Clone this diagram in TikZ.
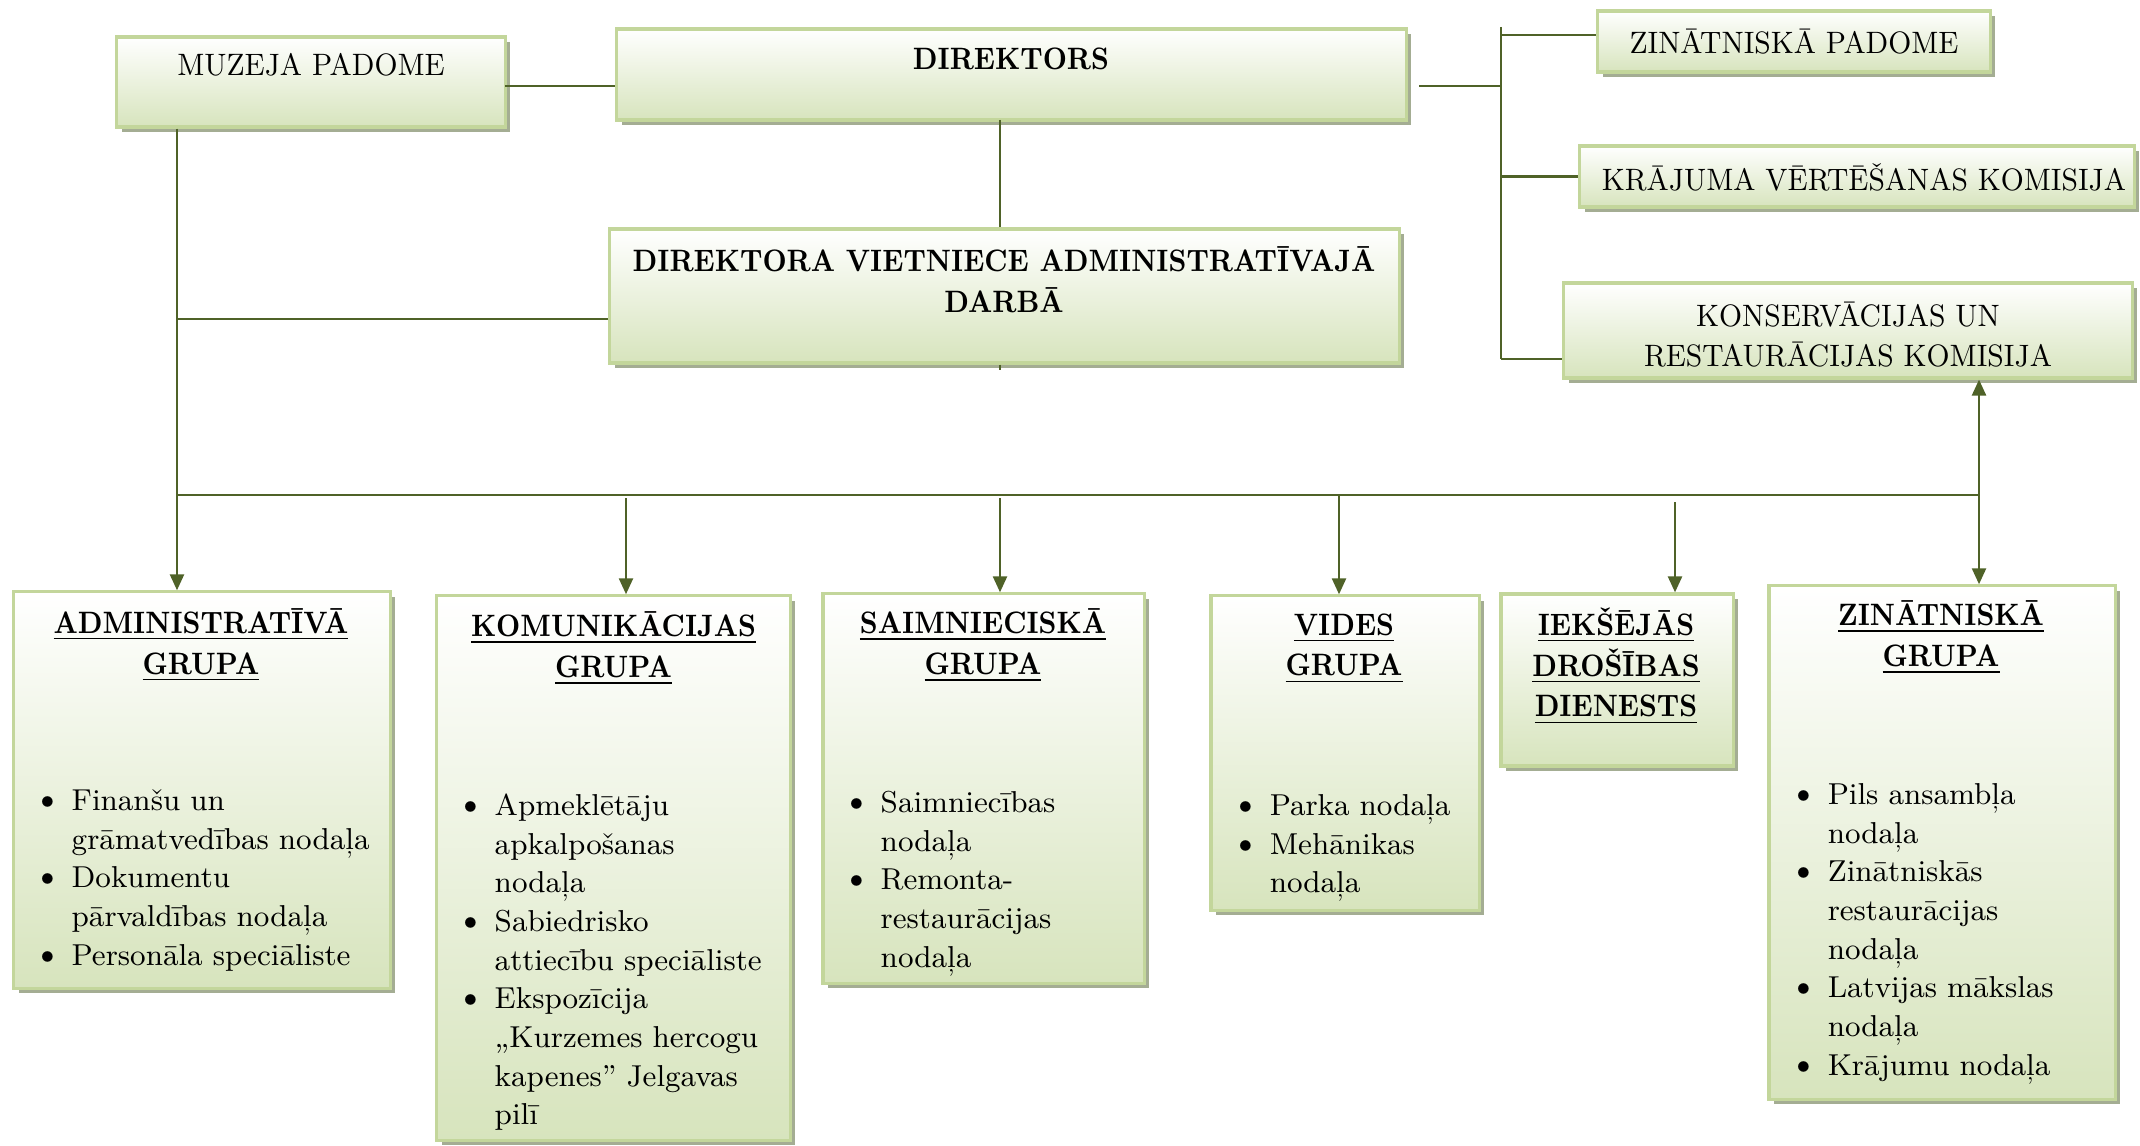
\documentclass[tikz,border=0pt]{standalone}
\usepackage{fontspec}
\usepackage{graphicx}
\usetikzlibrary{calc,shadows,arrows.meta}

\definecolor{linija}{HTML}{4F6228}
\definecolor{mala}{HTML}{C3D69B}
\definecolor{zals}{HTML}{D7E4BD}
\definecolor{ena}{HTML}{A4AD93}

\newcommand{\saurs}[1]{\scalebox{0.93}[1]{#1}}
\newcommand{\trekns}[1]{\scalebox{0.88}[1]{\textbf{#1}}}
\newcommand{\virsr}[1]{\scalebox{0.88}[1]{\textbf{\underline{#1}}}}
\newenvironment{punkti}{\begin{list}{\makebox[0.38cm][l]{\fontsize{10.5}{11}\selectfont\textbullet}}{\setlength{\leftmargin}{0.38cm}\setlength{\labelwidth}{0.38cm}\setlength{\labelsep}{0pt}\setlength{\itemsep}{0pt}\setlength{\parsep}{0pt}\setlength{\topsep}{0pt}\setlength{\partopsep}{0pt}}}{\end{list}}

\tikzset{
  kaste/.style={draw=mala, line width=0.9pt, top color=white, bottom color=zals,
    drop shadow={shadow xshift=0.05cm, shadow yshift=-0.05cm, fill=ena, opacity=1}, inner sep=0pt},
  uzraksts/.style={font=\fontsize{8.8}{11.6}\selectfont, align=center, inner sep=0pt},
  saraksts/.style={font=\fontsize{8.6}{11}\selectfont, align=left, anchor=north west, inner sep=0pt},
  savienot/.style={draw=linija, line width=0.7pt},
  bulta/.style={savienot, -{Triangle[width=0.14cm,length=0.16cm]}}
}

\begin{document}
\begin{tikzpicture}[x=0.01cm, y=-0.01cm]
	\useasboundingbox (0,0) rectangle (2140,1146);
	%%%%% AUGSA %%%%%
	\node[kaste, minimum width=3.88cm, minimum height=0.90cm] (muz) at (311,82) {};
	\node[kaste, minimum width=7.89cm, minimum height=0.91cm] (dir) at (1011.5,74.5) {};
	\node[kaste, minimum width=7.89cm, minimum height=1.34cm] (viet) at (1004.5,296) {};
	\node[kaste, minimum width=3.92cm, minimum height=0.61cm] (zp) at (1794,41.5) {};
	\node[kaste, minimum width=5.54cm, minimum height=0.61cm] (kv) at (1857,176.5) {};
	\node[kaste, minimum width=5.68cm, minimum height=0.95cm] (ks) at (1848,330.5) {};
	
	\node[uzraksts] (muzt) at (311,65) {\saurs{MUZEJA PADOME}};
	\node[uzraksts] (dirt) at (1011,59) {\trekns{DIREKTORS}};
	\node[uzraksts] (viett) at (1004,279.5) {\trekns{DIREKTORA VIETNIECE ADMINISTRATĪVAJĀ}\\\trekns{DARBĀ}};
	\node[uzraksts] (zpt) at (1794,42) {\saurs{ZINĀTNISKĀ PADOME}};
	\node[uzraksts] (kvt) at (1864,177) {\saurs{KRĀJUMA VĒRTĒŠANAS KOMISIJA}};
	\node[uzraksts] (kst) at (1848,334.5) {\saurs{KONSERVĀCIJAS UN}\\\saurs{RESTAURĀCIJAS KOMISIJA}};
	
	%%%%% GRUPAS %%%%%
	\node[kaste, minimum width=3.76cm, minimum height=3.96cm] (adm) at (202,790) {};
	\node[kaste, minimum width=3.53cm, minimum height=5.44cm] (kom) at (613.5,868) {};
	\node[kaste, minimum width=3.21cm, minimum height=3.89cm] (saim) at (983.5,788.5) {};
	\node[kaste, minimum width=2.68cm, minimum height=3.14cm] (vid) at (1345,753) {};
	\node[kaste, minimum width=2.32cm, minimum height=1.72cm] (iek) at (1617,680) {};
	\node[kaste, minimum width=3.46cm, minimum height=5.13cm] (zin) at (1942,842.5) {};
	
	\node[uzraksts] (admt) at (201,645) {\virsr{ADMINISTRATĪVĀ}\\\virsr{GRUPA}};
	\node[uzraksts] (komt) at (613.5,648.5) {\virsr{KOMUNIKĀCIJAS}\\\virsr{GRUPA}};
	\node[uzraksts] (saimt) at (983,645.5) {\virsr{SAIMNIECISKĀ}\\\virsr{GRUPA}};
	\node[uzraksts] (vidt) at (1344,648.5) {\virsr{VIDES}\\\virsr{GRUPA}};
	\node[uzraksts] (iekt) at (1616,666) {\virsr{IEKŠĒJĀS}\\\virsr{DROŠĪBAS}\\\virsr{DIENESTS}};
	\node[uzraksts] (zint) at (1941,637.5) {\virsr{ZINĀTNISKĀ}\\\virsr{GRUPA}};
	
	\node[saraksts, text width=3.6cm] (adml) at (33,771) {\begin{punkti}
		\item Finanšu un\\ grāmatvedības nodaļa
		\item Dokumentu\\ pārvaldības nodaļa
		\item Personāla speciāliste
	\end{punkti}};
	\node[saraksts, text width=3.3cm] (koml) at (456,776) {\begin{punkti}
		\item Apmeklētāju\\ apkalpošanas\\ nodaļa
		\item Sabiedrisko\\ attiecību speciāliste
		\item Ekspozīcija\\ „Kurzemes hercogu\\ kapenes” Jelgavas\\ pilī
	\end{punkti}};
	\node[saraksts, text width=3.0cm] (saiml) at (842,773) {\begin{punkti}
		\item Saimniecības\\ nodaļa
		\item Remonta-\\ restaurācijas\\ nodaļa
	\end{punkti}};
	\node[saraksts, text width=2.6cm] (vidl) at (1231,776) {\begin{punkti}
		\item Parka nodaļa
		\item Mehānikas\\ nodaļa
	\end{punkti}};
	\node[saraksts, text width=3.3cm] (zinl) at (1789,765) {\begin{punkti}
		\item Pils ansambļa\\ nodaļa
		\item Zinātniskās\\ restaurācijas\\ nodaļa
		\item Latvijas mākslas\\ nodaļa
		\item Krājumu nodaļa
	\end{punkti}};
	
	%%%%% LINIJAS %%%%%
	\coordinate (m1) at (505,86);
	\draw[savienot] (m1) -- (m1 -| dir.west);
	
	\coordinate (d1) at (1419,86);
	\coordinate (kn) at (1501,86);
	\coordinate (knA) at (1501,27);
	\coordinate (knB) at (1501,359);
	\draw[savienot] (d1) -- (kn);
	\draw[savienot] (knA) -- (knB);
	\draw[savienot] (knA |- 0,35) -- (zp.west |- 0,35);
	\draw[savienot] (kv.west -| kn) -- (kv.west);
	\draw[savienot] (knB) -- (knB -| ks.west);
	
	\coordinate (d2) at (1000,120);
	\draw[savienot] (d2) -- (d2 |- viet.north);
	\draw[savienot] (d2 |- viet.south) -- ++(0,5);
	
	\coordinate (b0) at (177,495);
	\coordinate (bN) at (1979,495);
	\draw[savienot] (muz.south -| b0) -- (b0);
	\draw[savienot] (b0 |- 0,319) -- (viet.west |- 0,319);
	\draw[savienot] (b0) -- (bN);
	
	\coordinate (p1) at (177,495);
	\coordinate (p2) at (626,498);
	\coordinate (p3) at (1000,498);
	\coordinate (p4) at (1339,495);
	\coordinate (p5) at (1675,502);
	\draw[bulta] (p1) -- (p1 |- adm.north);
	\draw[bulta] (p2) -- (p2 |- kom.north);
	\draw[bulta] (p3) -- (p3 |- saim.north);
	\draw[bulta] (p4) -- (p4 |- vid.north);
	\draw[bulta] (p5) -- (p5 |- iek.north);
	\draw[bulta] (bN) -- (bN |- zin.north);
	\draw[bulta] (bN) -- (bN |- ks.south);
\end{tikzpicture}
\end{document}
